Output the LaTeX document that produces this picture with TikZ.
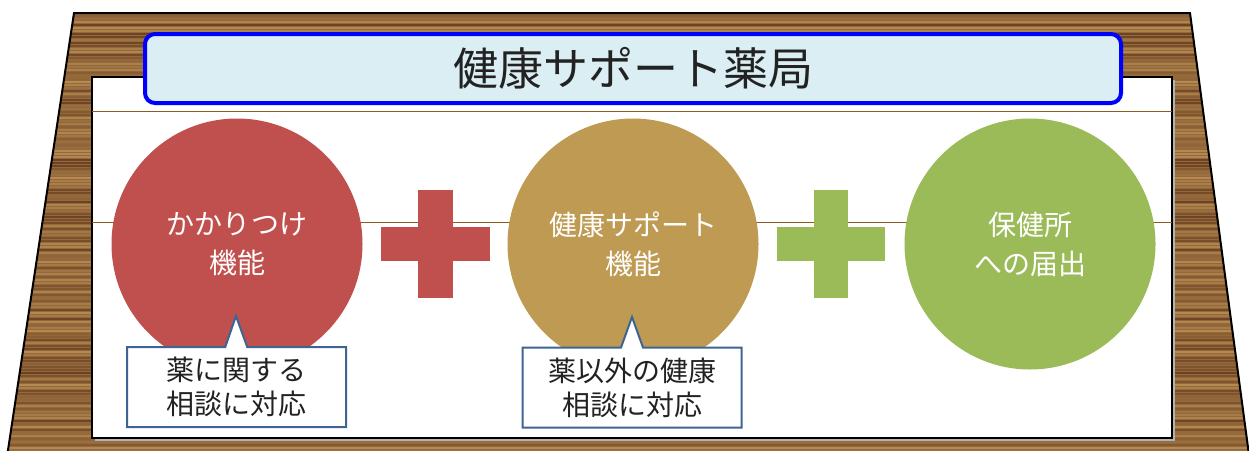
\documentclass[tikz,border=0pt]{standalone}
\usepackage{fontspec}
\setmainfont{Noto Sans CJK JP}
\usetikzlibrary{shapes.callouts}

\definecolor{woodbase}{HTML}{94683A}
\definecolor{woodlight}{HTML}{B88C52}
\definecolor{wooddark}{HTML}{6B4222}
\definecolor{titlefill}{HTML}{DBEEF4}
\definecolor{kakarired}{HTML}{C0504D}
\definecolor{supporttan}{HTML}{BF9A53}
\definecolor{hokengreen}{HTML}{9BBB59}
\definecolor{rulebrown}{HTML}{8E5A22}
\definecolor{calloutblue}{HTML}{3E6494}
\definecolor{textdark}{HTML}{222222}

\tikzset{
  titlebox/.style={draw=blue, line width=4pt, fill=titlefill, rounded corners=10pt,
    minimum width=976pt, minimum height=69pt, inner sep=0pt, text=textdark,
    font=\fontsize{45}{54}\selectfont},
  bigcircle/.style={circle, minimum size=251pt, inner sep=0pt, text=white,
    align=center, font=\fontsize{28}{39}\selectfont},
  talkbox/.style={rectangle callout, draw=calloutblue, line width=2pt, fill=white,
    minimum width=219pt, minimum height=80pt, inner sep=0pt, callout pointer width=22pt,
    align=center, text=textdark, font=\fontsize{28}{34}\selectfont},
}

\begin{document}
\begin{tikzpicture}[x=1pt,y=-1pt]
\clip (0,0) rectangle (1249,450);

% wooden board
\begin{scope}
  \clip (74,13) -- (1190,13) -- (1251,470) -- (5,470) -- cycle;
  \fill[woodbase] (0,0) rectangle (1249,470);
  \pgfmathsetseed{12}
  \foreach \yy in {13,16,...,470} {
    \pgfmathsetmacro{\mixval}{int(100*rnd)}
    \draw[woodlight!\mixval!wooddark, line width=1.8pt] (0,\yy) -- (1249,\yy);
  }
\end{scope}
\draw[line width=2pt] (5,470) -- (74,13) -- (1190,13) -- (1251,470);

% white panel
\fill[gray!60] (95,80) rectangle (1175,441);
\draw[line width=2.5pt, fill=white] (92,77) rectangle (1172,438);
\draw[rulebrown, line width=0.8pt] (92,111) -- (1172,111);
\draw[rulebrown, line width=0.8pt] (92,222) -- (1172,222);

\node[titlebox] (title) at (633,68.5) {健康サポート薬局};

% three functions
\node[bigcircle, fill=kakarired] (kakari) at (237,244) {かかりつけ\\機能};
\node[bigcircle, fill=supporttan] (support) at (633,244) {健康サポート\\機能};
\node[bigcircle, fill=hokengreen] (hoken) at (1030,244) {保健所\\への届出};

% plus signs
\fill[kakarired] (418,190) rectangle (453,298);
\fill[kakarired] (381,227) rectangle (490,261);
\fill[hokengreen] (814,190) rectangle (848,298);
\fill[hokengreen] (777,227) rectangle (885,261);

% callouts
\node[talkbox, callout absolute pointer={(236,316)}] (soudanA) at (236.5,387) {薬に関する\\相談に対応};
\node[talkbox, callout absolute pointer={(632,317)}] (soudanB) at (632,387.5) {薬以外の健康\\相談に対応};
\end{tikzpicture}
\end{document}
